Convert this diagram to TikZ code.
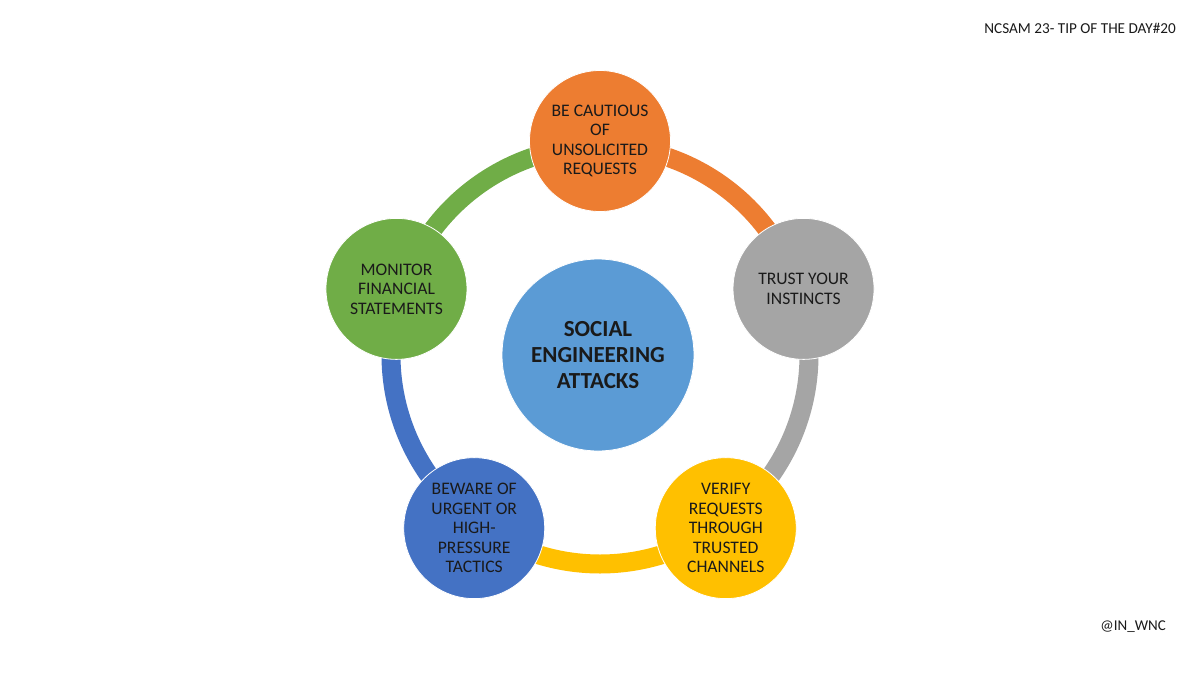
\documentclass[tikz,border=0pt]{standalone}
\usepackage{fontspec}
\setmainfont{Carlito}
\usetikzlibrary{calc, backgrounds}
\definecolor{tiporange}{HTML}{ED7D31}
\definecolor{tipgray}{HTML}{A5A5A5}
\definecolor{tipyellow}{HTML}{FFC000}
\definecolor{tipblue}{HTML}{4472C4}
\definecolor{tipgreen}{HTML}{70AD47}
\definecolor{hubblue}{HTML}{5B9BD5}
\definecolor{tiptext}{HTML}{1A1A1A}

\begin{document}
\begin{tikzpicture}[x=1pt, y=1pt,
    tip/.style={circle, minimum size=141pt, inner sep=0pt, align=center, text=tiptext,
      font=\fontsize{17.6}{19.5}\selectfont, draw=white, line width=0.8pt},
    ring/.style={line width=19pt}]
  \useasboundingbox (0,0) rectangle (1200,-675);
  \coordinate (hub) at (600,-355);
  % centre circle
  \node[circle, minimum size=192pt, inner sep=0pt, fill=hubblue, draw=white, line width=0.8pt,
    align=center, font=\fontsize{23}{26}\selectfont\bfseries, text=tiptext] (attacks) at (598,-355)
    {SOCIAL\\ENGINEERING\\ATTACKS};
  % the five tips
  \node[tip, fill=tiporange] (cautious) at ($(hub)+(90:214)$) {BE CAUTIOUS\\OF\\UNSOLICITED\\REQUESTS};
  \node[tip, fill=tipgray] (instincts) at ($(hub)+(18:214)$) {TRUST YOUR\\INSTINCTS};
  \node[tip, fill=tipyellow] (verify) at ($(hub)+(-54:214)$) {VERIFY\\REQUESTS\\THROUGH\\TRUSTED\\CHANNELS};
  \node[tip, fill=tipblue] (urgent) at ($(hub)+(-126:214)$) {BEWARE OF\\URGENT OR\\HIGH-\\PRESSURE\\TACTICS};
  \node[tip, fill=tipgreen] (monitor) at ($(hub)+(162:214)$) {MONITOR\\FINANCIAL\\STATEMENTS};
  % ring behind the circles
  \begin{scope}[on background layer]
    \fill[white] (0,0) rectangle (1200,-675);
    \draw[ring, tiporange] (hub) ++(90:209) arc[start angle=90, end angle=18, radius=209pt];
    \draw[ring, tipgray] (hub) ++(18:209) arc[start angle=18, end angle=-54, radius=209pt];
    \draw[ring, tipyellow] (hub) ++(-54:209) arc[start angle=-54, end angle=-126, radius=209pt];
    \draw[ring, tipblue] (hub) ++(-126:209) arc[start angle=-126, end angle=-198, radius=209pt];
    \draw[ring, tipgreen] (hub) ++(162:209) arc[start angle=162, end angle=90, radius=209pt];
  \end{scope}
  % header and handle
  \node[anchor=east, font=\fontsize{15.2}{17}\selectfont, text=tiptext, inner sep=0pt] (title) at (1176,-28)
    {NCSAM 23- TIP OF THE DAY\#20};
  \node[anchor=east, font=\fontsize{15}{17}\selectfont, text=tiptext, inner sep=0pt] (handle) at (1166,-627)
    {@IN\_WNC};
\end{tikzpicture}
\end{document}
